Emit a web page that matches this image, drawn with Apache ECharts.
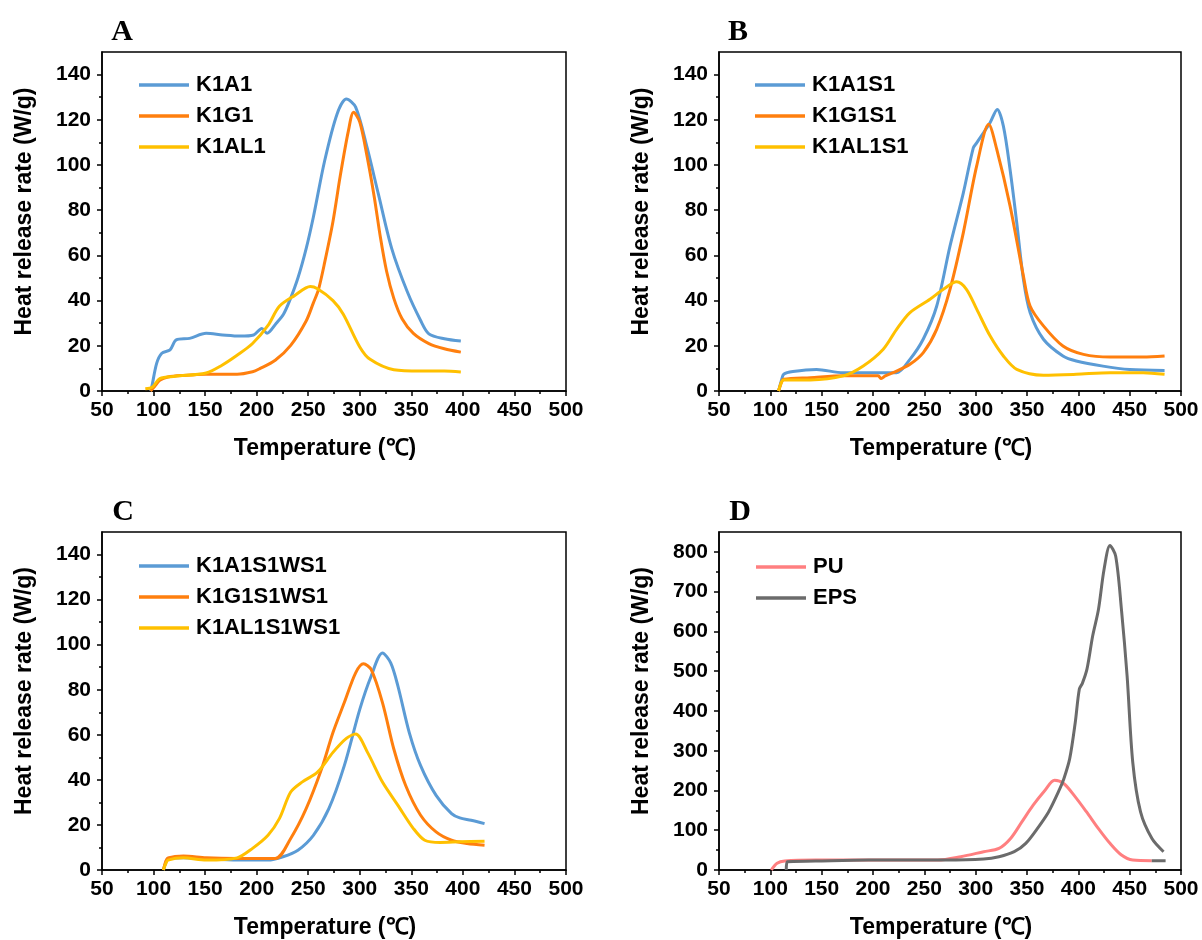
<!DOCTYPE html>
<html lang="en">

<head>
    <meta charset="UTF-8">
    <title>Heat release rate</title>
    <script src="https://cdn.jsdelivr.net/npm/echarts@6/dist/echarts.min.js"></script>
    <style>
        body { margin: 0; background: #fff; }
    </style>
</head>

<body>
    <div id="main" style="width: 1202px;height:940px;"></div>
    <script type="text/javascript">
        // panel A
        var tK1A1 = [97, 98, 103, 108, 116, 122, 135, 151, 167, 184, 197, 205, 210, 219, 226, 232, 240, 248, 255, 266, 278, 287, 296, 307, 318, 331, 346, 359, 367, 382, 398];
        var vK1A1 = [0, 1.2, 12.2, 16.7, 18.2, 22.6, 23.3, 25.5, 24.8, 24.3, 24.8, 27.7, 25.5, 30, 34, 40, 50, 63, 77, 102, 122.6, 129.2, 125.6, 107.9, 87.2, 63, 44, 31.2, 25.3, 23.1, 22.1];
        var tK1G1 = [97, 101, 106, 114, 129, 151, 181, 196, 203, 218, 233, 248, 255, 260, 266, 274, 281, 289, 294, 300, 307, 314, 320, 326, 333, 341, 352, 367, 382, 398];
        var vK1G1 = [0, 2, 4.7, 6.2, 6.9, 7.4, 7.4, 8.5, 9.9, 13.6, 20.2, 31, 39, 45, 57, 75, 95, 115.2, 123.3, 119, 104, 86, 68, 53, 41, 32, 25.5, 21, 18.7, 17.2];
        var tK1AL1 = [92, 99, 106, 121, 151, 166, 181, 196, 211, 222, 237, 252, 259, 274, 284, 300, 310, 333, 359, 382, 398];
        var vK1AL1 = [1, 1.8, 5.5, 6.5, 8, 11.3, 15.8, 21, 29, 37.5, 42.3, 46.2, 45.2, 40, 34, 19.5, 14, 9.4, 8.8, 8.8, 8.4];

        // panel B
        var tK1A1S1 = [108, 111, 113, 122, 145, 171, 204, 223, 236, 249, 262, 275, 288, 297.7, 301, 314, 321, 327, 333.5, 340, 346.5, 353, 366, 385, 398, 424, 450, 484];
        var vK1A1S1 = [0, 5, 7.4, 8.6, 9.5, 8.1, 8.1, 8.1, 14, 23, 37.5, 64.1, 87.7, 107.6, 109.8, 118.7, 124.6, 117.2, 98, 74.5, 49.4, 34.7, 22.9, 15.5, 13.3, 11, 9.5, 9.1];
        var tK1G1S1 = [108, 111, 113, 139, 171, 205, 208, 212, 223, 236, 249, 262, 275, 288, 301, 312.7, 320.5, 333.5, 346.5, 353, 366, 385, 405, 431, 463, 484];
        var vK1G1S1 = [0, 4, 5.2, 5.9, 6.7, 6.7, 5.5, 6.7, 8.8, 11.8, 17, 27.3, 45, 70.1, 99.6, 118, 107, 81.9, 50.9, 37.6, 28.8, 19.9, 16.2, 15, 15, 15.5];
        var tK1AL1S1 = [108, 111, 113, 139, 171, 190.5, 210, 223, 236, 255.5, 268.5, 281.5, 291, 301, 314, 327, 340, 366, 398, 431, 463, 484];
        var vK1AL1S1 = [0, 4, 4.9, 4.9, 6.7, 11.1, 18.5, 27.3, 34.7, 40.6, 45, 48.3, 45, 36.2, 24.4, 15.5, 9.6, 7, 7.4, 8.1, 8.1, 7.4];

        // panel C
        var tK1A1S1WS1 = [109.5, 112, 114, 129, 151, 181, 211, 225.5, 240, 255, 270, 285, 300, 311, 322, 330, 337, 348, 359, 374, 389, 397, 408, 421];
        var vK1A1S1WS1 = [0, 3.5, 5.1, 5.4, 4.9, 4.4, 4.4, 5.9, 8.8, 15.4, 27.2, 46.3, 71.3, 86, 96.3, 91.9, 81.6, 61, 46.3, 33.1, 25, 23.1, 22.1, 20.6];
        var tK1G1S1WS1 = [109.5, 112, 114, 129, 151, 181, 218, 233, 248, 263, 274, 285, 296, 303.6, 311, 322, 333, 344.5, 359, 374, 389, 404, 421];
        var vK1G1S1WS1 = [0, 4, 5.4, 6.2, 5.4, 5.1, 5.1, 14, 27.2, 44.9, 61, 74.3, 87.5, 91.5, 89, 74.3, 53.7, 37.5, 24.3, 16.9, 13.2, 11.8, 11];
        var tK1AL1S1WS1 = [109.5, 112, 114, 129, 151, 181, 196, 211, 222, 233, 244, 259, 274, 287, 296, 307.5, 322, 337, 352, 363, 378, 397, 421];
        var vK1AL1S1WS1 = [0, 3, 4.4, 5.4, 4.4, 5.4, 9.6, 15.4, 22.8, 34.6, 39, 43.4, 52.2, 58.4, 60.3, 52.2, 39, 28.7, 18.4, 13.2, 12.2, 12.5, 12.8];

        // panel D
        var tPU = [101, 106.6, 114, 144, 196, 263, 285.5, 307.8, 322.7, 334, 345, 356, 367.4, 376.8, 386, 397, 408, 419.6, 430.8, 442, 453, 471.5];
        var vPU = [0, 16.7, 22.5, 25, 25, 25, 33.4, 46, 54.3, 79.3, 121, 163, 200, 225.5, 217, 184, 146, 104, 67, 37.6, 25, 23.4];
        var tPUend = [471.5, 485];
        var vPUend = [23.4, 23.4];
        var tEPS = [115.5, 116.5, 144, 196, 270.6, 307.8, 322.7, 337.6, 348.8, 360, 371, 382, 386, 391.6, 397, 401, 404, 408.4, 414, 419.6, 425, 430.8, 436.4, 442, 447.5, 453, 460.6, 471.7, 483];
        var vEPS = [0, 21, 22.5, 25, 25, 27.6, 33.4, 46, 67, 104, 146, 204.6, 230, 280, 371, 455, 470, 505, 589, 655, 755, 816, 789, 655, 488, 271, 146, 79, 46];

        // tick labels
        var xTicks = [50, 100, 150, 200, 250, 300, 350, 400, 450, 500];
        var yTicksABC = [0, 20, 40, 60, 80, 100, 120, 140];
        var yMinorABC = [10, 30, 50, 70, 90, 110, 130];
        var yTicksD = [0, 100, 200, 300, 400, 500, 600, 700, 800];
        var yMinorD = [50, 150, 250, 350, 450, 550, 650, 750];

        var cBlue = '#5b9bd5', cOrange = '#ff7f0e', cYellow = '#ffc000', cPink = '#ff7f80', cGray = '#6b6b6b';
        var font = 'Liberation Sans';

        function pairs(t, v) {
            return t.map(function (x, i) { return [x, v[i]]; });
        }

        var grids = [
            { left: 102, top: 52, width: 464, height: 339 },
            { left: 719, top: 52, width: 462, height: 339 },
            { left: 102, top: 532, width: 464, height: 340 },
            { left: 719, top: 532, width: 462, height: 340 }
        ];
        grids.forEach(function (g) {
            g.show = true;
            g.borderColor = '#000';
            g.borderWidth = 1.5;
            g.backgroundColor = 'transparent';
        });

        function makeX(i) {
            return {
                type: 'value', gridIndex: i, min: 50, max: 500, interval: 50,
                axisLine: { lineStyle: { color: '#000', width: 1.5 } },
                axisTick: { length: 5, lineStyle: { color: '#000', width: 1.5 } },
                minorTick: { show: true, splitNumber: 2, length: 3, lineStyle: { color: '#000', width: 1.5 } },
                axisLabel: { color: '#000', fontSize: 21, fontWeight: 'bold', fontFamily: font, margin: 9, customValues: xTicks },
                splitLine: { show: false },
                name: 'Temperature (℃)', nameLocation: 'middle', nameGap: 46,
                nameTextStyle: { color: '#000', fontSize: 23, fontWeight: 'bold', fontFamily: font, padding: [0, 18, 0, 0] }
            };
        }

        function makeY(i, max, ticks) {
            return {
                type: 'value', gridIndex: i, min: 0, max: max, position: 'left',
                axisLine: { show: true, lineStyle: { color: '#000', width: 1.5 } },
                axisTick: { length: 5, lineStyle: { color: '#000', width: 1.5 }, customValues: ticks },
                axisLabel: { color: '#000', fontSize: 21, fontWeight: 'bold', fontFamily: font, margin: 11, customValues: ticks },
                splitLine: { show: false },
                name: 'Heat release rate (W/g)', nameLocation: 'middle', nameGap: 66,
                nameTextStyle: { color: '#000', fontSize: 23, fontWeight: 'bold', fontFamily: font, padding: [0, 0, 0, 20] }
            };
        }

        // second y axis only for the short minor ticks
        function makeYMinor(i, max, ticks) {
            return {
                type: 'value', gridIndex: i, min: 0, max: max, position: 'left',
                axisLine: { show: false },
                axisTick: { show: true, length: 3, lineStyle: { color: '#000', width: 1.5 }, customValues: ticks },
                axisLabel: { show: false },
                splitLine: { show: false }
            };
        }

        function line(name, color, t, v, xi, yi) {
            return {
                name: name, type: 'line', xAxisIndex: xi, yAxisIndex: yi,
                symbol: 'none', smooth: 0.3,
                lineStyle: { color: color, width: 3 },
                itemStyle: { color: color },
                data: pairs(t, v)
            };
        }

        function legend(left, top, names) {
            return {
                orient: 'vertical', left: left, top: top, padding: 0,
                icon: 'rect', itemWidth: 50, itemHeight: 3.5, itemGap: 9,
                textStyle: { color: '#000', fontSize: 22, fontWeight: 'bold', fontFamily: font, padding: [0, 0, 0, 2] },
                data: names
            };
        }

        function letter(txt, x, y) {
            return {
                type: 'text', x: x, y: y,
                style: { text: txt, font: 'bold 30px "Liberation Serif"', fill: '#000', textAlign: 'center', textVerticalAlign: 'middle' }
            };
        }

        var myChart = echarts.init(document.getElementById('main'));
        var option = {
            animation: false,
            backgroundColor: '#fff',
            grid: grids,
            xAxis: [makeX(0), makeX(1), makeX(2), makeX(3)],
            yAxis: [
                makeY(0, 150, yTicksABC), makeYMinor(0, 150, yMinorABC),
                makeY(1, 150, yTicksABC), makeYMinor(1, 150, yMinorABC),
                makeY(2, 150, yTicksABC), makeYMinor(2, 150, yMinorABC),
                makeY(3, 850, yTicksD), makeYMinor(3, 850, yMinorD)
            ],
            legend: [
                legend(139, 74, ['K1A1', 'K1G1', 'K1AL1']),
                legend(755, 74, ['K1A1S1', 'K1G1S1', 'K1AL1S1']),
                legend(139, 555, ['K1A1S1WS1', 'K1G1S1WS1', 'K1AL1S1WS1']),
                legend(756, 556, ['PU', 'EPS'])
            ],
            graphic: [
                letter('A', 122, 32),
                letter('B', 738, 32),
                letter('C', 123, 512),
                letter('D', 740, 512)
            ],
            series: [
                line('K1A1', cBlue, tK1A1, vK1A1, 0, 0),
                line('K1G1', cOrange, tK1G1, vK1G1, 0, 0),
                line('K1AL1', cYellow, tK1AL1, vK1AL1, 0, 0),
                line('K1A1S1', cBlue, tK1A1S1, vK1A1S1, 1, 2),
                line('K1G1S1', cOrange, tK1G1S1, vK1G1S1, 1, 2),
                line('K1AL1S1', cYellow, tK1AL1S1, vK1AL1S1, 1, 2),
                line('K1A1S1WS1', cBlue, tK1A1S1WS1, vK1A1S1WS1, 2, 4),
                line('K1G1S1WS1', cOrange, tK1G1S1WS1, vK1G1S1WS1, 2, 4),
                line('K1AL1S1WS1', cYellow, tK1AL1S1WS1, vK1AL1S1WS1, 2, 4),
                line('PU', cPink, tPU, vPU, 3, 6),
                line('EPS', cGray, tEPS, vEPS, 3, 6),
                line('EPS', cGray, tPUend, vPUend, 3, 6)
            ]
        };
        myChart.setOption(option);
    </script>
</body>

</html>
